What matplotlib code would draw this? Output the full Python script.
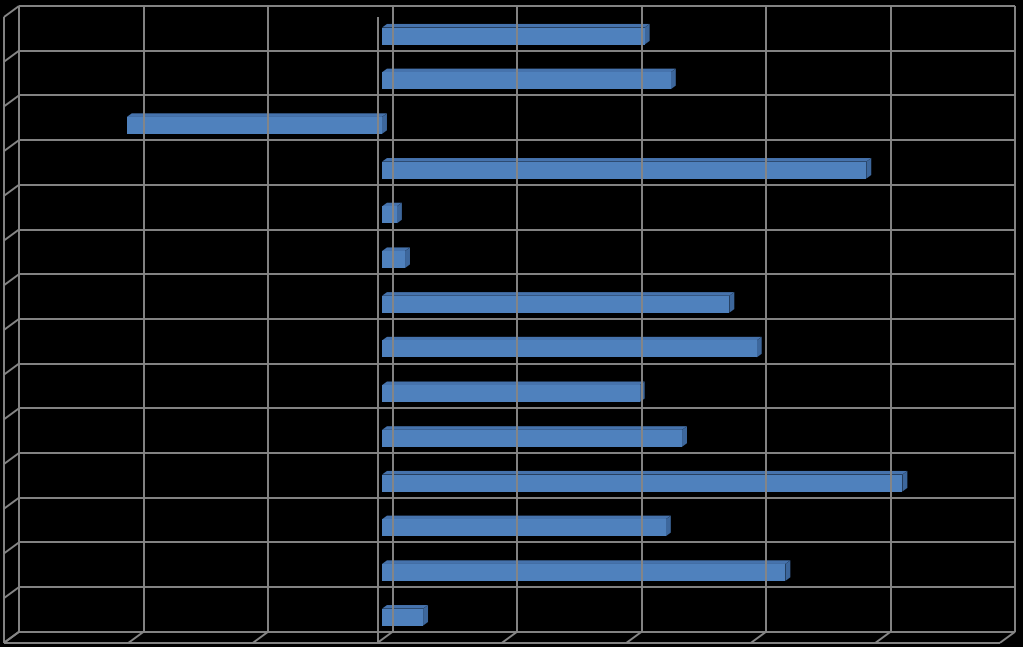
import matplotlib
matplotlib.use('Agg')
import matplotlib.pyplot as plt

# values, top to bottom (units = one gridline step)
categories = list(range(1, 15))
values = [2.11, 2.32, -2.05, 3.89, 0.12, 0.185, 2.79,
          3.01, 2.07, 2.41, 4.18, 2.28, 3.24, 0.33]
x_ticks = [-3, -2, -1, 0, 1, 2, 3, 4, 5]

grid_col = '#868686'
front_col = '#4f81bd'
top_col = '#4673ad'
side_col = '#3d679c'

# depth offset of the 3d box (front wall relative to back wall), in data units
DX = -15 / 124.5
DY = 11 / 44.7


def proj(v, i, d):
    return v + d * DX, i + d * DY


def line3(ax, p, q, **kw):
    a = proj(*p)
    b = proj(*q)
    ax.plot([a[0], b[0]], [a[1], b[1]], **kw)


def face(ax, pts, color):
    xy = [proj(*p) for p in pts]
    ax.fill([p[0] for p in xy], [p[1] for p in xy], color=color, lw=0)


fig = plt.figure(figsize=(10.23, 6.47), dpi=100, facecolor='black')
ax = fig.add_axes([0, 0, 1, 1])
ax.set_facecolor('black')
ax.axis('off')
ax.set_xlim(-392.5 / 124.5, (1023 - 392.5) / 124.5)
ax.set_ylim((647 - 6) / 44.7, -6 / 44.7)

n = len(categories)
lo, hi = x_ticks[0], x_ticks[-1]
kw = dict(color=grid_col, lw=1.4, solid_capstyle='butt')

# back wall
for v in x_ticks:
    line3(ax, (v, 0, 0), (v, n, 0), **kw)
for i in range(n + 1):
    line3(ax, (lo, i, 0), (hi, i, 0), **kw)
# left wall
for i in range(n + 1):
    line3(ax, (lo, i, 0), (lo, i, 1), **kw)
line3(ax, (lo, 0, 1), (lo, n, 1), **kw)
# floor
for v in x_ticks:
    line3(ax, (v, n, 0), (v, n, 1), **kw)
line3(ax, (lo, n, 1), (hi, n, 1), **kw)
# zero line on the front plane
line3(ax, (0, 0, 1), (0, n, 1), **kw)

# bars
h = 0.19
d0, d1 = 0.37, 0.70
for k, val in enumerate(values):
    c = k + 0.5
    a, b = min(0, val), max(0, val)
    face(ax, [(a, c - h, d1), (b, c - h, d1), (b, c - h, d0), (a, c - h, d0)], top_col)
    face(ax, [(b, c - h, d1), (b, c + h, d1), (b, c + h, d0), (b, c - h, d0)], side_col)
    face(ax, [(a, c - h, d1), (b, c - h, d1), (b, c + h, d1), (a, c + h, d1)], front_col)

fig.savefig('out.png', dpi=100, facecolor='black')
